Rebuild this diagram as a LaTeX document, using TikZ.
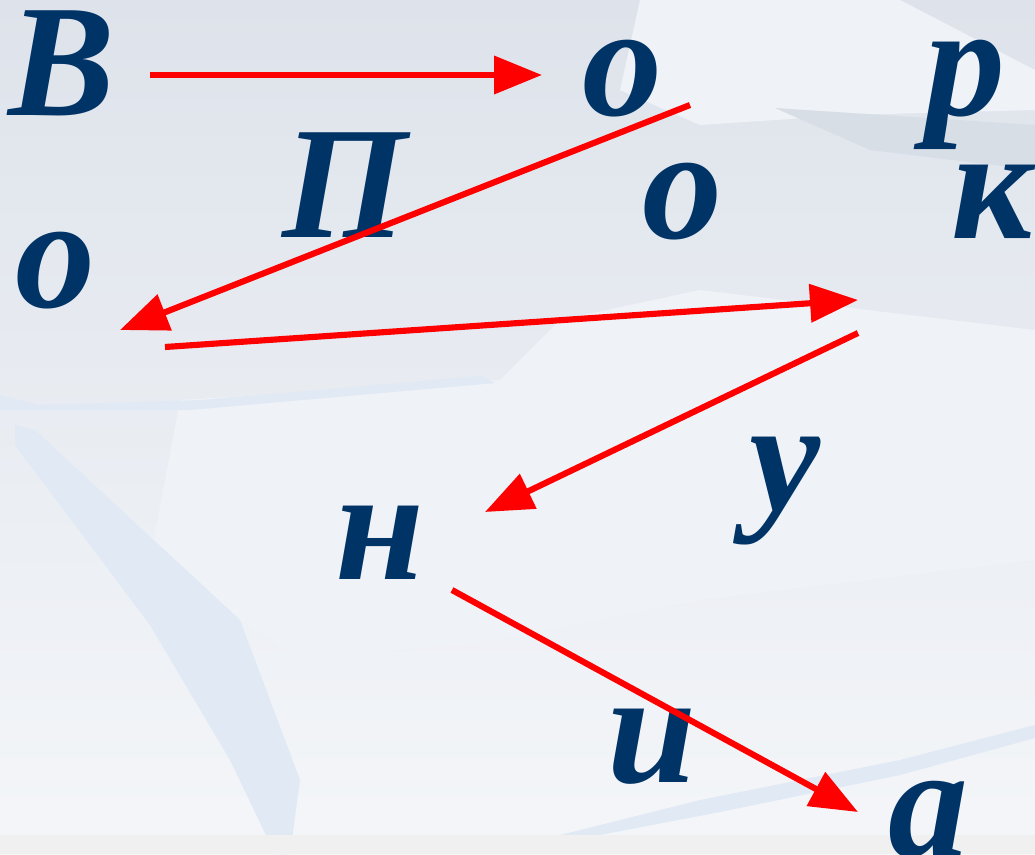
\documentclass[tikz,border=0pt]{standalone}
\usepackage{fontspec}
\setmainfont{Liberation Serif}
\usetikzlibrary{arrows.meta}
\definecolor{LetCol} {RGB}{0,51,102}
\definecolor{ArrCol} {RGB}{255,0,0}
\definecolor{BgTop}  {RGB}{222,227,235}
\definecolor{BgBot}  {RGB}{244,246,249}
\definecolor{IceLt}  {RGB}{239,242,246}
\definecolor{IceDk}  {RGB}{216,222,230}
\definecolor{IceBl}  {RGB}{224,233,244}
\definecolor{StripBg}{RGB}{240,240,240}
\tikzset{
  nd_let/.style={
    anchor=base, inner sep=0pt, text=LetCol,
    font=\fontsize{120}{120}\selectfont\bfseries\itshape},
  arr/.style={-{Triangle[length=36pt,width=28pt]},line width=4.6pt,draw=ArrCol},
  ice/.style={fill=IceLt},
  icedk/.style={fill=IceDk},
  icebl/.style={fill=IceBl},
}

\begin{document}
\begin{tikzpicture}[x=0.75pt,y=-0.75pt]

%% background
\shade[top color=BgTop,bottom color=BgBot] (0,0) rectangle (1035,854);
\useasboundingbox (0,0) rectangle (1035,854);
\fill[ice] (640,0)--(900,0)--(1035,70)--(1035,110)--(850,115)--(700,125)--(620,90)--cycle;
\fill[icedk] (775,108)--(1035,125)--(1035,170)--(870,150)--cycle;
\fill[ice] (180,400)--(500,380)--(560,320)--(700,290)--(1035,330)--(1035,560)--(700,600)--(500,640)--(300,660)--(150,560)--cycle;
\fill[ice] (220,515)--(260,490)--(330,485)--(520,470)--(580,430)--(650,460)--(560,520)--(420,540)--(300,540)--cycle;
\fill[icebl] (0,410)--(190,410)--(495,383)--(480,376)--(200,400)--(40,405)--(0,395)--cycle;
\fill[icebl] (15,425)--(35,430)--(240,620)--(300,780)--(290,854)--(275,854)--(230,760)--(150,625)--(15,445)--cycle;
\fill[icebl] (560,835)--(700,800)--(900,760)--(1035,725)--(1035,738)--(900,775)--(720,812)--(600,835)--cycle;
\fill[StripBg] (0,835) rectangle (1035,854);

%% letters
\node[nd_let] at (62,115)  (lB) {В};
\node[nd_let] at (622,115) (lO1){о};
\node[nd_let] at (965,115) (lR) {р};
\node[nd_let] at (345,237) (lP) {П};
\node[nd_let] at (682,238) (lO2){о};
\node[nd_let] at (992,238) (lK) {к};
\node[nd_let] at (55,307)  (lO3){о};
\node[nd_let] at (785,510) (lU) {у};
\node[nd_let] at (380,579) (lN) {н};
\node[nd_let] at (652,782) (lI) {и};
\node[nd_let] at (928,856) (lA) {а};

%% arrow ends
\coordinate (s1) at (150,75);  \coordinate (e1) at (542,75);
\coordinate (s2) at (690,105); \coordinate (e2) at (120,330);
\coordinate (s3) at (165,347); \coordinate (e3) at (858,300);
\coordinate (s4) at (858,333); \coordinate (e4) at (485,512);
\coordinate (s5) at (452,590); \coordinate (e5) at (858,812);

%% arrows
\foreach \a/\b in {s1/e1,s2/e2,s3/e3,s4/e4,s5/e5}
  {\draw[arr] (\a)--(\b);}

\end{tikzpicture}
\end{document}
